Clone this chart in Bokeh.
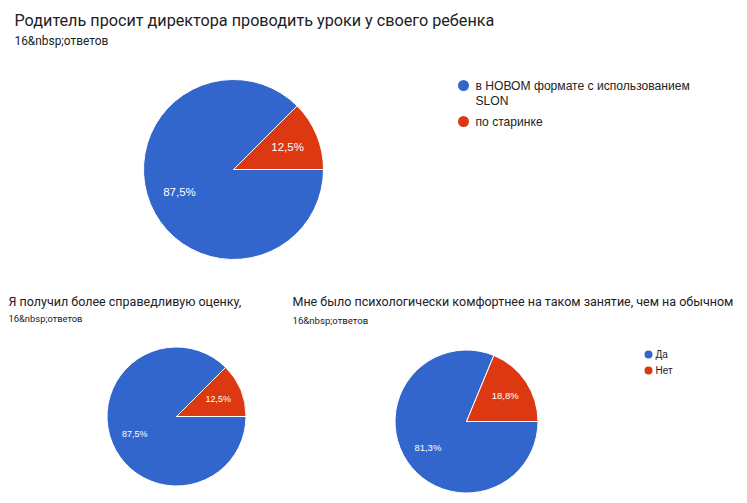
import math
from bokeh.plotting import figure
from bokeh.models import Range1d
from bokeh.core.properties import value
from bokeh.embed import file_html
from bokeh.resources import INLINE

# ---------------- data ----------------
titles = [
    "Родитель просит директора проводить уроки у своего ребенка",
    "Я получил более справедливую оценку,",
    "Мне было психологически комфортнее на таком занятие, чем на обычном",
]
subtitle = "16&nbsp;ответов"
categories1 = ["в НОВОМ формате с использованием\nSLON", "по старинке"]
categories3 = ["Да", "Нет"]
values1 = [14, 2]
values2 = [14, 2]
values3 = [13, 3]
colors = ["#3366CC", "#DC3912"]

# ---------------- figure ----------------
W, H = 739, 495
p = figure(width=W, height=H, output_backend="svg", toolbar_location=None,
           x_range=Range1d(0, W), y_range=Range1d(H, 0),
           min_border=0, x_axis_location=None, y_axis_location=None,
           background_fill_color="white", border_fill_color="white")
p.outline_line_color = None
p.xgrid.visible = False
p.ygrid.visible = False

TITLE_FONT = value("Roboto")
BODY_FONT = value("Liberation Sans")
DARK = "#202124"


def fmt_pct(v, total):
    x = math.floor(v / total * 1000 + 0.5) / 10
    return f"{x:.1f}".replace(".", ",") + "%"


def pie(vals, cx, cy, R, fs):
    total = sum(vals)
    cum = 0.0
    starts, ends, lx, ly, labels = [], [], [], [], []
    for v in vals:
        frac = v / total
        a0 = -cum * 2 * math.pi
        a1 = -(cum + frac) * 2 * math.pi
        starts.append(a0)
        ends.append(a1)
        mid = (a0 + a1) / 2
        lx.append(cx + 0.65 * R * math.cos(mid))
        ly.append(cy - 0.65 * R * math.sin(mid))
        labels.append(fmt_pct(v, total))
        cum += frac
    p.wedge(x=[cx] * len(vals), y=[cy] * len(vals), radius=R, radius_units="screen",
            start_angle=starts, end_angle=ends, direction="clock",
            fill_color=colors[:len(vals)], line_color="white", line_width=1)
    p.text(x=lx, y=ly, text=labels, text_color="white", text_font=BODY_FONT,
           text_font_size=fs, text_align="center", text_baseline="middle")


def legend(cats, x, y, step, line_h, size, gap, fs):
    yy = y
    for c, col in zip(cats, colors):
        p.scatter(x=[x], y=[yy], marker="circle", size=size, fill_color=col, line_color=None)
        lines = c.split("\n")
        p.text(x=[x + gap] * len(lines),
               y=[yy + i * line_h for i in range(len(lines))], text=lines,
               text_color="#222222", text_font=BODY_FONT, text_font_size=fs,
               text_baseline="middle")
        yy += step + (len(lines) - 1) * line_h


def header(title, x, y, tfs, sy, sfs):
    p.text(x=[x], y=[y], text=[title], text_color=DARK, text_font=TITLE_FONT,
           text_font_size=tfs, text_baseline="middle")
    p.text(x=[x], y=[sy], text=[subtitle], text_color=DARK, text_font=TITLE_FONT,
           text_font_size=sfs, text_baseline="middle")


# chart 1
header(titles[0], 14, 20, "16.2px", 40, "11.9px")
pie(values1, 233, 169, 90, "11.5px")
legend(categories1, 463, 85, 20.3, 15.7, 11, 12, "12.1px")

# chart 2
header(titles[1], 8, 301, "12.5px", 318, "9.4px")
pie(values2, 176, 416, 69.5, "9px")

# chart 3
header(titles[2], 292, 301, "12.5px", 320, "9.6px")
pie(values3, 466, 421, 71.5, "9.5px")
legend(categories3, 648, 354, 16, 12, 8, 7, "10px")

open("out.html", "w").write(file_html(p, INLINE))
